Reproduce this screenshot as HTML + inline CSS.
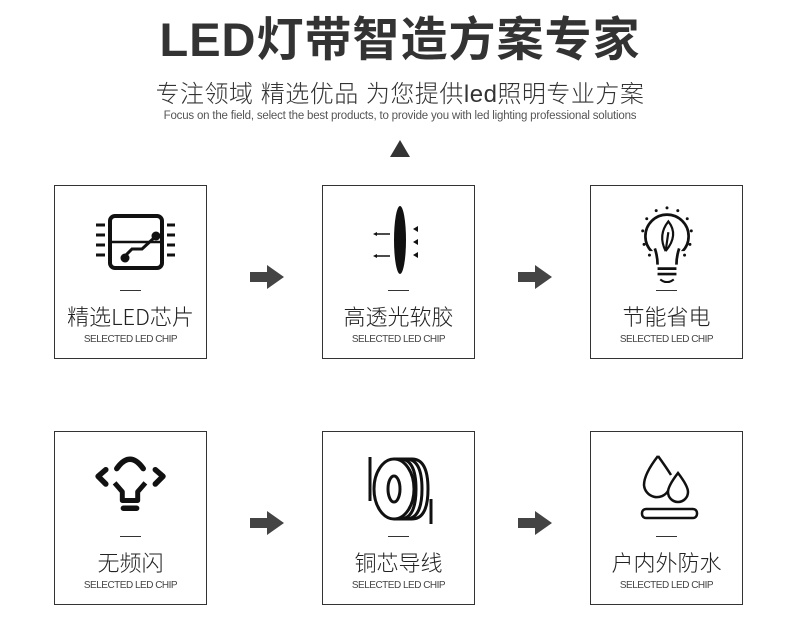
<!DOCTYPE html>
<html><head><meta charset="utf-8"><style>
body{margin:0;width:800px;height:621px;background:#fff;position:relative;overflow:hidden;font-family:"Liberation Sans","Noto Sans CJK SC",sans-serif;color:#222}
.t{position:absolute;left:0;width:800px;text-align:center;white-space:nowrap}
.box{position:absolute;width:151px;height:172px;border:1px solid #333;box-sizing:content-box}
.box .ln{position:absolute;left:65px;top:104px;width:21px;height:1px;background:#333}
.box .cn{position:absolute;left:0;width:151px;top:116px;text-align:center;font-size:22px;color:#222;font-family:"Noto Sans CJK SC",sans-serif;font-weight:300;line-height:28px}
.box .en{position:absolute;left:0;width:151px;top:148px;text-align:center;font-size:10px;color:#444;letter-spacing:-0.5px}
.box svg{position:absolute;left:25px;top:7px}
.arr{position:absolute;width:34px;height:24px}
</style></head><body>
<div class="t" style="top:11px;font-size:47px;font-weight:bold;color:#333;letter-spacing:1px;line-height:58px;font-family:'Liberation Sans','Noto Sans CJK SC',sans-serif">LED灯带智造方案专家</div>
<div class="t" style="top:80px;font-size:24px;color:#333;line-height:30px;letter-spacing:0.5px;font-weight:300">专注领域 精选优品 为您提供led照明专业方案</div>
<div class="t" style="top:111px;font-size:11.5px;color:#555;line-height:11px;letter-spacing:-0.2px">Focus on the field, select the best products, to provide you with led lighting professional solutions</div>
<svg style="position:absolute;left:389px;top:140px" width="22" height="18"><polygon points="11,0 21,17 1,17" fill="#333"/></svg>

<div class="box" style="left:54px;top:185px"><svg width="100" height="90" viewBox="0 0 100 90">
<rect x="30" y="23" width="52" height="52" rx="5" fill="none" stroke="#111" stroke-width="4"/>
<line x1="30" y1="49" x2="82" y2="49" stroke="#111" stroke-width="2.5"/>
<polyline points="44,64 52,56 62,56 75,44" fill="none" stroke="#111" stroke-width="3"/>
<circle cx="76" cy="43" r="4.5" fill="#111"/><circle cx="45" cy="65" r="4.5" fill="#111"/>
<g stroke="#111" stroke-width="3"><line x1="16" y1="32" x2="25" y2="32"/><line x1="16" y1="42" x2="25" y2="42"/><line x1="16" y1="52" x2="25" y2="52"/><line x1="16" y1="62" x2="25" y2="62"/><line x1="87" y1="32" x2="95" y2="32"/><line x1="87" y1="42" x2="95" y2="42"/><line x1="87" y1="52" x2="95" y2="52"/><line x1="87" y1="62" x2="95" y2="62"/></g>
</svg><div class="ln"></div><div class="cn">精选LED芯片</div><div class="en">SELECTED LED CHIP</div></div>

<div class="box" style="left:322px;top:185px"><svg width="100" height="90" viewBox="0 0 100 90">
<ellipse cx="52" cy="47" rx="6" ry="34" fill="#111"/>
<g stroke="#111" stroke-width="1.5"><line x1="27" y1="41" x2="42" y2="41"/><line x1="27" y1="63" x2="42" y2="63"/></g>
<polygon points="25,41 29,39 29,43" fill="#111"/><polygon points="25,63 29,61 29,65" fill="#111"/>
<polygon points="65,36 70,33 70,39" fill="#111"/><polygon points="65,49 70,46 70,52" fill="#111"/><polygon points="65,62 70,59 70,65" fill="#111"/>
</svg><div class="ln"></div><div class="cn">高透光软胶</div><div class="en">SELECTED LED CHIP</div></div>

<div class="box" style="left:590px;top:185px"><svg width="100" height="90" viewBox="0 0 100 90">
<g transform="translate(51,50) scale(1.35) translate(-51,-50)">
<circle cx="51" cy="45" r="16" fill="none" stroke="#111" stroke-width="2"/>
<rect x="38" y="56" width="26" height="7" fill="#fff"/>
<path d="M42 54 Q44 60 44 66 M60 54 Q58 60 58 66" fill="none" stroke="#111" stroke-width="2"/>
<path d="M50 56 Q44 44 52 34 Q60 44 50 56 M50 56 L52 42" fill="none" stroke="#111" stroke-width="1.6"/>
<g stroke="#111" stroke-width="2"><line x1="44" y1="69" x2="58" y2="69"/><line x1="44" y1="73" x2="58" y2="73"/></g>
<path d="M46 77 Q51 81 56 77" fill="none" stroke="#111" stroke-width="1.6"/>
<g fill="#111"><circle cx="51" cy="24" r="1.1"/><circle cx="43" cy="26" r="1.1"/><circle cx="59" cy="26" r="1.1"/><circle cx="36" cy="32" r="1.1"/><circle cx="66" cy="32" r="1.1"/><circle cx="33" cy="41" r="1.1"/><circle cx="69" cy="41" r="1.1"/><circle cx="34" cy="51" r="1.1"/><circle cx="68" cy="51" r="1.1"/><circle cx="38" cy="59" r="1.1"/><circle cx="64" cy="59" r="1.1"/></g></g>
</svg><div class="ln"></div><div class="cn">节能省电</div><div class="en">SELECTED LED CHIP</div></div>

<div class="box" style="left:54px;top:431px"><svg width="100" height="90" viewBox="0 0 100 90">
<g transform="translate(50,45) scale(1.1) translate(-50,-45)">
<path d="M38 31 Q50 14 62 31" fill="none" stroke="#111" stroke-width="5" stroke-linecap="round"/>
<polyline points="28,32 21,38 28,45" fill="none" stroke="#111" stroke-width="5" stroke-linecap="round" stroke-linejoin="round"/>
<polyline points="73,32 80,38 73,45" fill="none" stroke="#111" stroke-width="5" stroke-linecap="round" stroke-linejoin="round"/>
<path d="M36 44 L43 52 L43 60 L57 60 L57 52 L64 44" fill="none" stroke="#111" stroke-width="4.5" stroke-linejoin="round"/>
<line x1="44" y1="67" x2="56" y2="67" stroke="#111" stroke-width="5" stroke-linecap="round"/></g>
</svg><div class="ln"></div><div class="cn">无频闪</div><div class="en">SELECTED LED CHIP</div></div>

<div class="box" style="left:322px;top:431px"><svg width="100" height="90" viewBox="0 0 100 90">
<g fill="none" stroke="#111" stroke-width="3">
<ellipse cx="46" cy="50" rx="20" ry="30"/><ellipse cx="46" cy="50" rx="6" ry="13"/>
<path d="M52 20 Q68 20 68 50 Q68 80 52 80"/><path d="M58 20 Q74 20 74 50 Q74 80 58 80"/><path d="M64 20 Q80 20 80 50 Q80 80 64 80"/>
<line x1="22" y1="18" x2="22" y2="62"/><line x1="46" y1="20" x2="64" y2="20"/><line x1="46" y1="80" x2="64" y2="80"/>
<line x1="83" y1="60" x2="83" y2="85"/></g>
</svg><div class="ln"></div><div class="cn">铜芯导线</div><div class="en">SELECTED LED CHIP</div></div>

<div class="box" style="left:590px;top:431px"><svg width="100" height="90" viewBox="0 0 100 90">
<g fill="none" stroke="#111" stroke-width="2.5">
<path d="M42 17 Q28 35 28 46 A13 13 0 0 0 52 52"/><path d="M42 17 Q50 28 55 36"/>
<path d="M62 34 Q52 47 52 53 A10 10 0 0 0 72 53 Q72 47 62 34Z"/>
<rect x="26" y="70" width="55" height="9" rx="4"/></g>
</svg><div class="ln"></div><div class="cn">户内外防水</div><div class="en">SELECTED LED CHIP</div></div>

<svg class="arr" style="left:250px;top:265px" viewBox="0 0 34 24"><polygon points="0,7 17,7 17,0 34,12 17,24 17,17 0,17" fill="#444"/></svg>
<svg class="arr" style="left:518px;top:265px" viewBox="0 0 34 24"><polygon points="0,7 17,7 17,0 34,12 17,24 17,17 0,17" fill="#444"/></svg>
<svg class="arr" style="left:250px;top:511px" viewBox="0 0 34 24"><polygon points="0,7 17,7 17,0 34,12 17,24 17,17 0,17" fill="#444"/></svg>
<svg class="arr" style="left:518px;top:511px" viewBox="0 0 34 24"><polygon points="0,7 17,7 17,0 34,12 17,24 17,17 0,17" fill="#444"/></svg>
</body></html>
